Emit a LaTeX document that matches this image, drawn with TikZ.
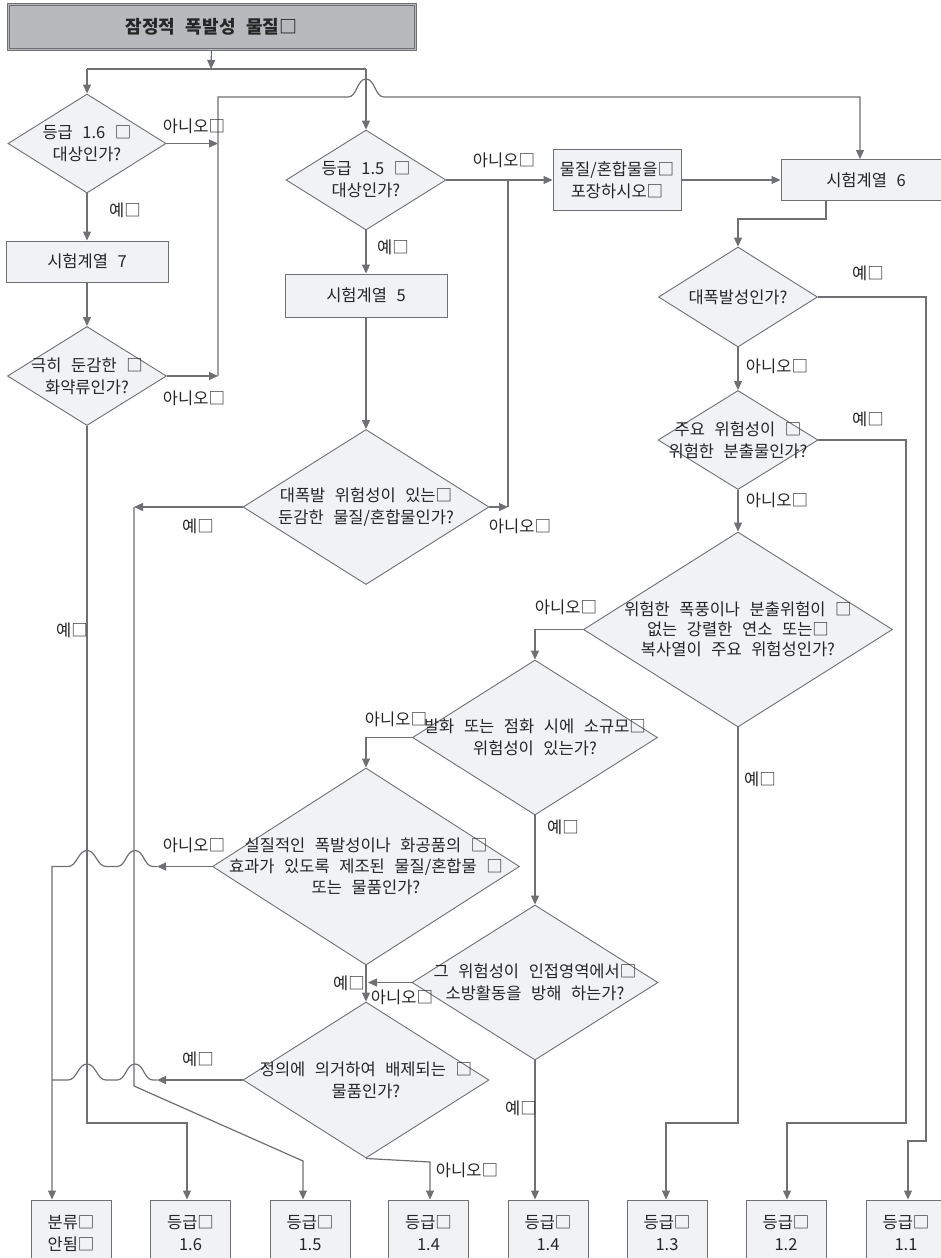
\documentclass[tikz,border=0pt]{standalone}
\usepackage{fontspec}
\setmainfont{Noto Sans CJK KR}[WordSpace=2.6]
\usetikzlibrary{shapes.geometric,arrows.meta}
\definecolor{linec}{HTML}{6F7073}
\definecolor{boxfill}{HTML}{F1F2F4}
\definecolor{headfill}{HTML}{B8B9BC}
\definecolor{ink}{HTML}{262626}
\tikzset{
  wire/.style={line width=1.2pt},
  flow/.style={wire, -{Triangle[length=9pt,width=8pt]}},
  decision/.style={diamond, draw, fill=boxfill, line width=0.9pt, inner sep=0pt},
  stepbox/.style={rectangle, draw, fill=boxfill, line width=1pt, inner sep=0pt, align=center},
  endbox/.style={stepbox, minimum width=80pt, minimum height=66pt},
  qtext/.style={align=center, inner sep=0pt},
  lbl/.style={inner sep=0pt},
}
\begin{document}
\begin{tikzpicture}[x=1pt,y=-1pt,color=linec,text=ink,
  font=\fontsize{16.5pt}{22pt}\selectfont]
\fill[white] (0,0) rectangle (940,1258);
\useasboundingbox (0,0) rectangle (940,1258);

% ---------- heading ----------
\node[stepbox, fill=headfill, minimum width=409pt, minimum height=47pt,
  font=\fontsize{18pt}{22pt}\selectfont\bfseries] (title) at (211.5,26.5) {잠정적 폭발성 물질□};
\draw[line width=0.8pt] ([shift={(2.5pt,-2.5pt)}]title.north west) rectangle ([shift={(-2.5pt,2.5pt)}]title.south east);

% ---------- decisions ----------
\node[decision, minimum width=158pt, minimum height=99pt] (d16) at (87,143.5) {};
\node[qtext] (d16t) at (d16) {등급 1.6 □\\대상인가?};
\node[decision, minimum width=159pt, minimum height=99pt] (dexp) at (87,376) {};
\node[qtext] (dexpt) at (dexp) {극히 둔감한 □\\화약류인가?};
\node[decision, minimum width=160pt, minimum height=100pt] (d15) at (366,180) {};
\node[qtext] (d15t) at (d15) {등급 1.5 □\\대상인가?};
\node[decision, minimum width=246pt, minimum height=155pt] (dbig) at (366,507) {};
\node[qtext] (dbigt) at (dbig) {대폭발 위험성이 있는□\\둔감한 물질/혼합물인가?};
\node[decision, minimum width=159pt, minimum height=100pt] (dmass) at (738,297) {};
\node[qtext] (dmasst) at (dmass) {대폭발성인가?};
\node[decision, minimum width=160pt, minimum height=99pt] (dproj) at (738,440) {};
\node[qtext] (dprojt) at (dproj) {주요 위험성이 □\\위험한 분출물인가?};
\node[decision, minimum width=309pt, minimum height=195pt] (dfire) at (738,629.5) {};
\node[qtext, font=\fontsize{16.5pt}{20pt}\selectfont] (dfiret) at (dfire) {위험한 폭풍이나 분출위험이 □\\없는 강렬한 연소 또는□\\복사열이 주요 위험성인가?};
\node[decision, minimum width=245pt, minimum height=155pt] (dsmall) at (535,737.5) {};
\node[qtext] (dsmallt) at (dsmall) {발화 또는 점화 시에 소규모□\\위험성이 있는가?};
\node[decision, minimum width=307pt, minimum height=197pt] (dsubst) at (366,866.5) {};
\node[qtext, font=\fontsize{16.5pt}{21pt}\selectfont] (dsubstt) at (dsubst) {실질적인 폭발성이나 화공품의 □\\효과가 있도록 제조된 물질/혼합물 □\\또는 물품인가?};
\node[decision, minimum width=246pt, minimum height=155pt] (dinter) at (535,982.5) {};
\node[qtext] (dintert) at (dinter) {그 위험성이 인접영역에서□\\소방활동을 방해 하는가?};
\node[decision, minimum width=246pt, minimum height=156pt] (dexcl) at (366,1080) {};
\node[qtext] (dexclt) at (dexcl) {정의에 의거하여 배제되는 □\\물품인가?};

% ---------- process boxes ----------
\node[stepbox, minimum width=162pt, minimum height=41pt] (t7) at (87,261.5) {시험계열 7};
\node[stepbox, minimum width=162pt, minimum height=43pt] (t5) at (366,295.5) {시험계열 5};
\node[stepbox, minimum width=128pt, minimum height=61pt] (pack) at (617,180) {물질/혼합물을□\\포장하시오□};
\node[stepbox, minimum width=170pt, minimum height=41pt] (t6) at (866,180) {시험계열 6};

% ---------- outcomes ----------
\node[endbox] (bnc)  at (71,1233)    {분류□\\안됨□};
\node[endbox] (b16)  at (190.5,1233) {등급□\\1.6};
\node[endbox] (b15)  at (310,1233)   {등급□\\1.5};
\node[endbox] (b14a) at (428.5,1233) {등급□\\1.4};
\node[endbox] (b14b) at (548,1233)   {등급□\\1.4};
\node[endbox] (b13)  at (667,1233)   {등급□\\1.3};
\node[endbox] (b12)  at (786,1233)   {등급□\\1.2};
\node[endbox] (b11)  at (906,1233)   {등급□\\1.1};

% ---------- junction points ----------
\coordinate (split) at (211,69);
\coordinate (splitL) at (87,69);
\coordinate (splitR) at (366,69);
\coordinate (noA1) at (218,143.5);
\coordinate (noA2) at (218,376);
\coordinate (busTop) at (218,97);
\coordinate (t6in) at (860,97);
\coordinate (noB) at (508,507);
\coordinate (noBtop) at (508,180);
\coordinate (yesB) at (134,507);
\coordinate (yesBk) at (134,1086);
\coordinate (yesBd) at (303,1161);
\coordinate (yes16) at (87,1123);
\coordinate (yes16b) at (187,1123);
\coordinate (t6o) at (826,219);
\coordinate (m1) at (926,297);
\coordinate (m2) at (926,1141);
\coordinate (m3) at (908,1141);
\coordinate (p1) at (906,440);
\coordinate (p2) at (906,1123);
\coordinate (p3) at (787,1123);
\coordinate (f1) at (738,1123);
\coordinate (f2) at (666,1123);
\coordinate (s1) at (535,629.5);
\coordinate (sm1) at (366,737.5);
\coordinate (sub1) at (157,866.5);
\coordinate (sub2) at (52,866.5);
\coordinate (int1) at (368,982.5);
\coordinate (ex1) at (157,1080);
\coordinate (ex2) at (52,1080);
\coordinate (exn) at (430,1162);

% ---------- connectors ----------
\draw[flow] (title.south) -- (split);
\draw[wire] (splitL) -- (splitR);
\draw[flow] (splitL) -- (d16.north);
\draw[flow] (splitR) -- (d15.north);
\draw[flow] (d16.south) -- (t7.north);
\draw[flow] (t7.south) -- (dexp.north);
\draw[flow] (d16.east) -- (noA1);
\draw[flow] (dexp.east) -- (noA2);
\draw[flow] (noA2) -- (busTop) -- (348,97)
  .. controls (357,97) and (357,79) .. (366,79)
  .. controls (375,79) and (375,97) .. (384,97) -- (t6in) -- (t6.north -| t6in);
\draw[flow] (d15.south) -- (t5.north);
\draw[flow] (t5.south) -- (dbig.north);
\draw[flow] (d15.east) -- (pack.west);
\draw[flow] (pack.east) -- (t6.west);
\draw[flow] (dbig.east) -- (noB);
\draw[wire] (noB) -- (noBtop);
\draw[flow] (dbig.west) -- (yesB);
\draw[flow] (yesB) -- (yesBk) -- (yesBd) -- (b15.north -| yesBd);
\draw[flow] (dexp.south) -- (yes16) -- (yes16b) -- (b16.north -| yes16b);
\draw[flow] (t6.south -| t6o) -- (t6o) -- (t6o -| dmass.north) -- (dmass.north);
\draw[flow] (dmass.east) -- (m1) -- (m2) -- (m3) -- (b11.north -| m3);
\draw[flow] (dmass.south) -- (dproj.north);
\draw[flow] (dproj.east) -- (p1) -- (p2) -- (p3) -- (b12.north -| p3);
\draw[flow] (dproj.south) -- (dfire.north);
\draw[flow] (dfire.south) -- (f1) -- (f2) -- (b13.north -| f2);
\draw[flow] (dfire.west) -- (s1) -- (dsmall.north);
\draw[flow] (dsmall.west) -- (sm1) -- (dsubst.north);
\draw[flow] (dsmall.south) -- (dinter.north);
\draw[flow] (dsubst.west) -- (sub1);
\draw[flow] (sub1) -- (153,866.5)
  .. controls (144,866.5) and (144,850.5) .. (135,850.5)
  .. controls (126,850.5) and (126,866.5) .. (117,866.5) -- (106,866.5)
  .. controls (97,866.5) and (96,850.5) .. (87,850.5)
  .. controls (78,850.5) and (77,866.5) .. (68,866.5) -- (sub2) -- (bnc.north -| sub2);
\draw[flow] (dsubst.south) -- (dexcl.north);
\draw[flow] (dinter.west) -- (int1);
\draw[flow] (dinter.south) -- (b14b.north -| dinter.south);
\draw[flow] (dexcl.west) -- (ex1);
\draw[wire] (ex1) -- (153,1080)
  .. controls (144,1080) and (144,1064) .. (135,1064)
  .. controls (126,1064) and (126,1080) .. (117,1080) -- (106,1080)
  .. controls (97,1080) and (96,1064) .. (87,1064)
  .. controls (78,1064) and (77,1080) .. (68,1080) -- (ex2);
\draw[flow] (dexcl.south) -- (exn) -- (b14a.north -| exn);

% ---------- branch labels ----------
\node[lbl] (l01) at (125,210) {예□};
\node[lbl] (l02) at (194,126) {아니오□};
\node[lbl] (l03) at (194,398) {아니오□};
\node[lbl] (l04) at (72,630) {예□};
\node[lbl] (l05) at (393,247) {예□};
\node[lbl] (l06) at (504,160) {아니오□};
\node[lbl] (l07) at (198,526) {예□};
\node[lbl] (l08) at (520,526) {아니오□};
\node[lbl] (l09) at (868,273) {예□};
\node[lbl] (l10) at (777,366) {아니오□};
\node[lbl] (l11) at (868,419) {예□};
\node[lbl] (l12) at (777,500) {아니오□};
\node[lbl] (l13) at (566,607) {아니오□};
\node[lbl] (l14) at (760,779) {예□};
\node[lbl] (l15) at (396,719) {아니오□};
\node[lbl] (l16) at (563,827) {예□};
\node[lbl] (l17) at (194,845) {아니오□};
\node[lbl] (l18) at (349,983) {예□};
\node[lbl] (l19) at (402,997) {아니오□};
\node[lbl] (l20) at (521,1108) {예□};
\node[lbl] (l21) at (198,1059) {예□};
\node[lbl] (l22) at (467,1170) {아니오□};
\end{tikzpicture}
\end{document}
